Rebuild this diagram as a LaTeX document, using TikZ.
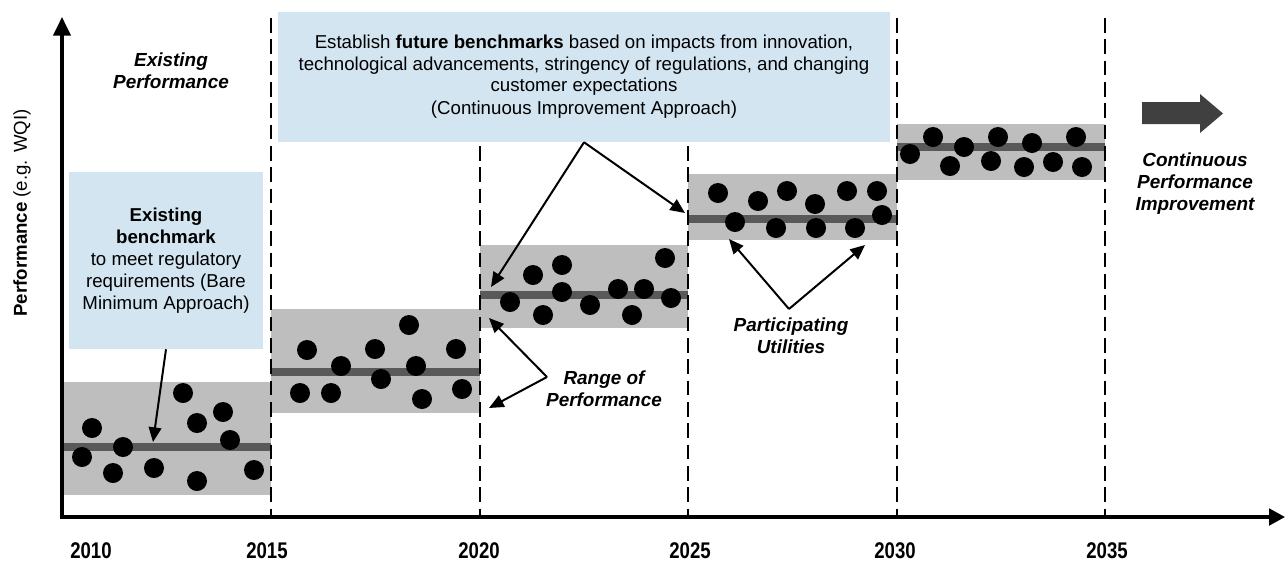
\documentclass[tikz,border=0pt]{standalone}
\usepackage{fontspec}
\setmainfont{Liberation Sans}
\newfontfamily\yearfont[FakeStretch=0.82]{Liberation Sans}
\usetikzlibrary{arrows.meta}
\definecolor{boxblue}{HTML}{D3E5F1}
\definecolor{bandgray}{HTML}{BEBEBE}
\definecolor{midgray}{HTML}{595959}
\definecolor{bigarrow}{HTML}{404040}
\tikzset{
  axisline/.style={line width=2.3pt},
  dashline/.style={line width=2.1pt, dash pattern=on 11pt off 5pt},
  band/.style={fill=bandgray},
  midline/.style={line width=5.5pt, draw=midgray},
  dot/.style={fill=black},
  infobox/.style={fill=boxblue, draw=none, align=center, inner sep=0pt},
  ptr/.style={line width=1.5pt, -{Triangle[length=11pt,width=9.5pt]}},
  yearlbl/.style={font=\yearfont\bfseries\fontsize{17}{19}\selectfont, inner sep=1pt},
  bilbl/.style={font=\bfseries\itshape\fontsize{14.2}{16.5}\selectfont, align=center, inner sep=0pt},
}
\begin{document}
\begin{tikzpicture}[x=0.75pt,y=-0.75pt]
\useasboundingbox (0,0) rectangle (1285,565);
% bands
\fill[band] (62,382) rectangle (271,495);
\fill[band] (271,309) rectangle (480,413);
\fill[band] (480,245) rectangle (688,328);
\fill[band] (688,174) rectangle (897,240);
\fill[band] (897,124) rectangle (1105,180);
\draw[midline] (62,447) -- (271,447);
\draw[midline] (271,372) -- (480,372);
\draw[midline] (480,295) -- (688,295);
\draw[midline] (688,219) -- (897,219);
\draw[midline] (897,147) -- (1105,147);
% dots
\foreach \px/\py in {82/457,92/428,113/473,123/447,154/468,183/393,197/423,197/481,223/412,230/440,254/470,
  307/350,300/393,331/393,341/366,375/349,381/379,409/325,416/366,422/399,456/349,462/389,
  510/302,533/275,543/315,562/265,562/292,590/305,618/289,632/315,644/289,665/258,671/298,
  718/193,735/222,758/201,776/228,787/191,815/204,816/228,847/191,855/228,877/191,882/215,
  910/154,933/137,950/166,964/147,998/137,991/161,1032/143,1024/167,1053/162,1076/137,1082/167}
  \fill[dot] (\px,\py) circle (7.5pt);
% dashed lines
\foreach \px in {271,480,688,897,1105}
  \draw[dashline] (\px,18) -- (\px,517);
% axes
\coordinate (origin) at (62,517);
\coordinate (ytip) at (62,17);
\coordinate (xtip) at (1285,517);
\draw[axisline, -{Triangle[length=14pt,width=13pt]}] (origin) -- (ytip);
\draw[axisline, -{Triangle[length=12pt,width=12.5pt]}] (60,517) -- (xtip);
% axis labels
\node[rotate=90, font=\fontsize{14}{16}\selectfont] (ylab) at (22,213) {\textbf{Performance} (e.g. WQI)};
\node[yearlbl] (y2010) at (91,551) {2010};
\node[yearlbl] (y2015) at (267,551) {2015};
\node[yearlbl] (y2020) at (479,551) {2020};
\node[yearlbl] (y2025) at (690,551) {2025};
\node[yearlbl] (y2030) at (895,551) {2030};
\node[yearlbl] (y2035) at (1107,551) {2035};
% info boxes
\node[infobox, minimum width=612*0.75pt, minimum height=130*0.75pt,
  font=\fontsize{14}{16}\selectfont] (tbox) at (584,77)
  {Establish \textbf{future benchmarks} based on impacts from innovation,\\
   technological advancements, stringency of regulations, and changing\\
   customer expectations\\[1.5pt]
   (Continuous Improvement Approach)};
\node[infobox, minimum width=194*0.75pt, minimum height=177*0.75pt,
  font=\fontsize{14}{16.5}\selectfont] (lbox) at (166,260.5)
  {\textbf{Existing}\\ \textbf{benchmark}\\ to meet regulatory\\ requirements (Bare\\ Minimum Approach)};
% labels
\node[bilbl] (exist) at (171,71) {Existing\\Performance};
\node[bilbl] (range) at (604,389) {Range of\\Performance};
\node[bilbl] (partic) at (791,336) {Participating\\Utilities};
\node[bilbl] (contin) at (1195,184) {Continuous\\Performance\\Improvement};
% big arrow
\fill[bigarrow] (1142,102) -- (1200,102) -- (1200,94) -- (1223,113.5) -- (1200,133) -- (1200,124) -- (1142,124) -- cycle;
% pointer arrows
\coordinate (t1) at (491,287);
\coordinate (t2) at (685,213);
\coordinate (b1) at (153,442);
\coordinate (r0) at (547,377);
\coordinate (r1) at (489,318);
\coordinate (r2) at (489,408);
\coordinate (p0) at (789,309);
\coordinate (p1) at (729,239);
\coordinate (p2) at (865,245);
\draw[ptr] (tbox.south) -- (t1);
\draw[ptr] (tbox.south) -- (t2);
\draw[ptr] (lbox.south) -- (b1);
\draw[ptr] (r0) -- (r1);
\draw[ptr] (r0) -- (r2);
\draw[ptr] (p0) -- (p1);
\draw[ptr] (p0) -- (p2);
\end{tikzpicture}
\end{document}
